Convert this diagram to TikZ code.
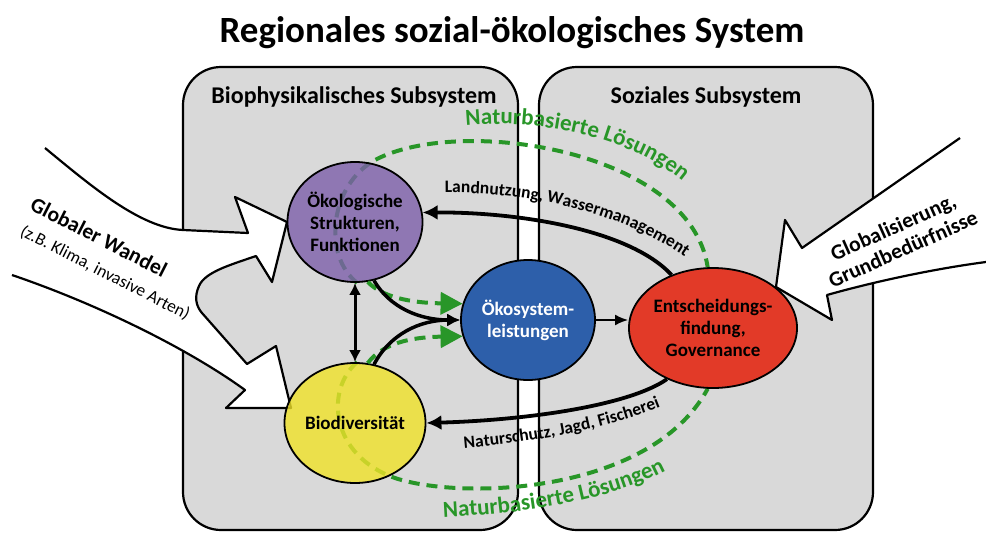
\documentclass[tikz,border=0pt]{standalone}
\usepackage{fontspec}
\setmainfont{Carlito}
\usetikzlibrary{arrows.meta,shapes.geometric,decorations.text,backgrounds}
\definecolor{boxgrau}{RGB}{217,217,217}
\definecolor{oekolila}{RGB}{125,95,170}
\definecolor{biogelb}{RGB}{240,226,40}
\definecolor{esblau}{RGB}{45,95,170}
\definecolor{govrot}{RGB}{226,58,40}
\definecolor{nbgruen}{RGB}{40,150,40}
\tikzset{
  sysbox/.style={draw, line width=2.2pt, fill=boxgrau, rounded corners=38},
  boxtitel/.style={font=\bfseries\fontsize{24}{26}\selectfont},
  kreis/.style={ellipse, draw, line width=1.8pt, minimum width=134, minimum height=120,
    inner sep=0pt, align=center, font=\bfseries\fontsize{19}{22}\selectfont},
  grossp/.style={draw, fill=white, line width=2.2pt, line join=round},
  pfeil/.style={line width=3.8pt, -{Latex[length=15pt,width=15pt]}},
  nbloesung/.style={draw=nbgruen, line width=4pt, dash pattern=on 11pt off 7pt},
  nbpfeil/.style={nbloesung, -{Triangle[length=22pt,width=22pt]}, nbgruen},
  pfadtext/.style={decorate, decoration={text along path, text align=center}}
}
\begin{document}
\begin{tikzpicture}[x=1pt,y=-1pt]
  \useasboundingbox (0,0) rectangle (986,533);
  \node[font=\bfseries\fontsize{37}{40}\selectfont] (titel) at (512,33)
    {Regionales sozial-ökologisches System};

  \node[kreis, fill=oekolila, fill opacity=0.8, text opacity=1] (oeko) at (355,222)
    {Ökologische\\Strukturen,\\Funktionen};
  \node[kreis, fill=biogelb, fill opacity=0.8, text opacity=1] (bio) at (355,423)
    {Biodiversität};
  \node[kreis, fill=esblau, text=white] (esl) at (528,320) {Ökosystem-\\leistungen};
  \node[kreis, fill=govrot] (gov) at (713,328) {Entscheidungs-\\findung,\\Governance};

  \begin{scope}[on background layer]
    \draw[sysbox] (183,67) rectangle (518,530);
    \draw[sysbox] (539,67) rectangle (873,530);
    % globaler Wandel
    \path[grossp] (45,148) .. controls (90,185) and (140,228) .. (183,230) -- (248,233)
      -- (235,197) -- (287,222) -- (272,282) -- (256,256)
      .. controls (230,265) and (205,272) .. (199,286)
      .. controls (194,297) and (196,306) .. (202,313) -- (247,364)
      -- (276,346) -- (291,408) -- (226,408) -- (245,390)
      .. controls (190,350) and (100,305) .. (12,275);
    % Globalisierung
    \path[grossp] (960,138) -- (802,248) -- (785,220) -- (776,287) -- (832,320)
      -- (827,295) .. controls (880,280) and (940,268) .. (986,262);
    % naturbasierte Loesungen
    \path[nbloesung] (oeko.-88) .. controls (322,255) and (330,185) .. (375,160)
      .. controls (460,115) and (690,150) .. (gov.95);
    \path[nbloesung] (bio.88) .. controls (325,390) and (330,455) .. (395,478)
      .. controls (460,500) and (650,495) .. (gov.-95);
  \end{scope}

  \node[boxtitel] (biophys) at (354,97) {Biophysikalisches Subsystem};
  \node[boxtitel] (sozial) at (706,97) {Soziales Subsystem};

  \draw[nbpfeil] (oeko.-78) .. controls (385,300) and (420,303) .. (esl.166);
  \draw[nbpfeil] (bio.78) .. controls (385,340) and (420,337) .. (esl.194);

  \draw[line width=3.5pt, -{Latex[length=13pt,width=13pt]}] (oeko.-72)
    .. controls (390,308) and (420,320) .. (esl.west);
  \draw[line width=3.5pt, -{Latex[length=13pt,width=13pt]}] (bio.72)
    .. controls (390,334) and (420,320) .. (esl.west);
  \draw[line width=3pt, {Latex[length=12pt,width=12pt]}-{Latex[length=12pt,width=12pt]}]
    (oeko.south) -- (bio.north);
  \draw[line width=2pt, -{Latex[length=13pt,width=11pt]}] (esl.east) -- (esl.east -| gov.west);
  \draw[pfeil] (gov.128) .. controls (630,230) and (520,212) .. (oeko.8);
  \draw[pfeil] (gov.228) .. controls (630,405) and (530,420) .. (bio.east);

  % Beschriftungen entlang der Pfeile
  \path[pfadtext, decoration={text={|\bfseries\fontsize{17.5}{19}\selectfont|Landnutzung, Wassermanagement}}]
    (436,193) .. controls (530,190) and (630,215) .. (692,262);
  \path[pfadtext, decoration={text={|\bfseries\fontsize{17.5}{19}\selectfont|Naturschutz, Jagd, Fischerei}}]
    (456,449) .. controls (540,442) and (612,428) .. (668,404);
  \path[pfadtext, decoration={text={|\bfseries\fontsize{23}{25}\selectfont\color{nbgruen}|Naturbasierte Lösungen}}]
    (453,127) .. controls (540,115) and (642,140) .. (692,190);
  \path[pfadtext, decoration={text={|\bfseries\fontsize{23}{25}\selectfont\color{nbgruen}|Naturbasierte Lösungen}}]
    (434,518) .. controls (520,514) and (612,502) .. (674,466);

  \node[rotate=-27, font=\bfseries\fontsize{21.5}{24}\selectfont] (wandel) at (99,237) {Globaler Wandel};
  \node[rotate=-27, font=\fontsize{17.5}{19}\selectfont] (wbsp) at (105,273) {(z.B. Klima, invasive Arten)};
  \node[rotate=24, align=center, font=\bfseries\fontsize{21.5}{24}\selectfont] (glob) at (898,238)
    {Globalisierung,\\Grundbedürfnisse};
\end{tikzpicture}
\end{document}
